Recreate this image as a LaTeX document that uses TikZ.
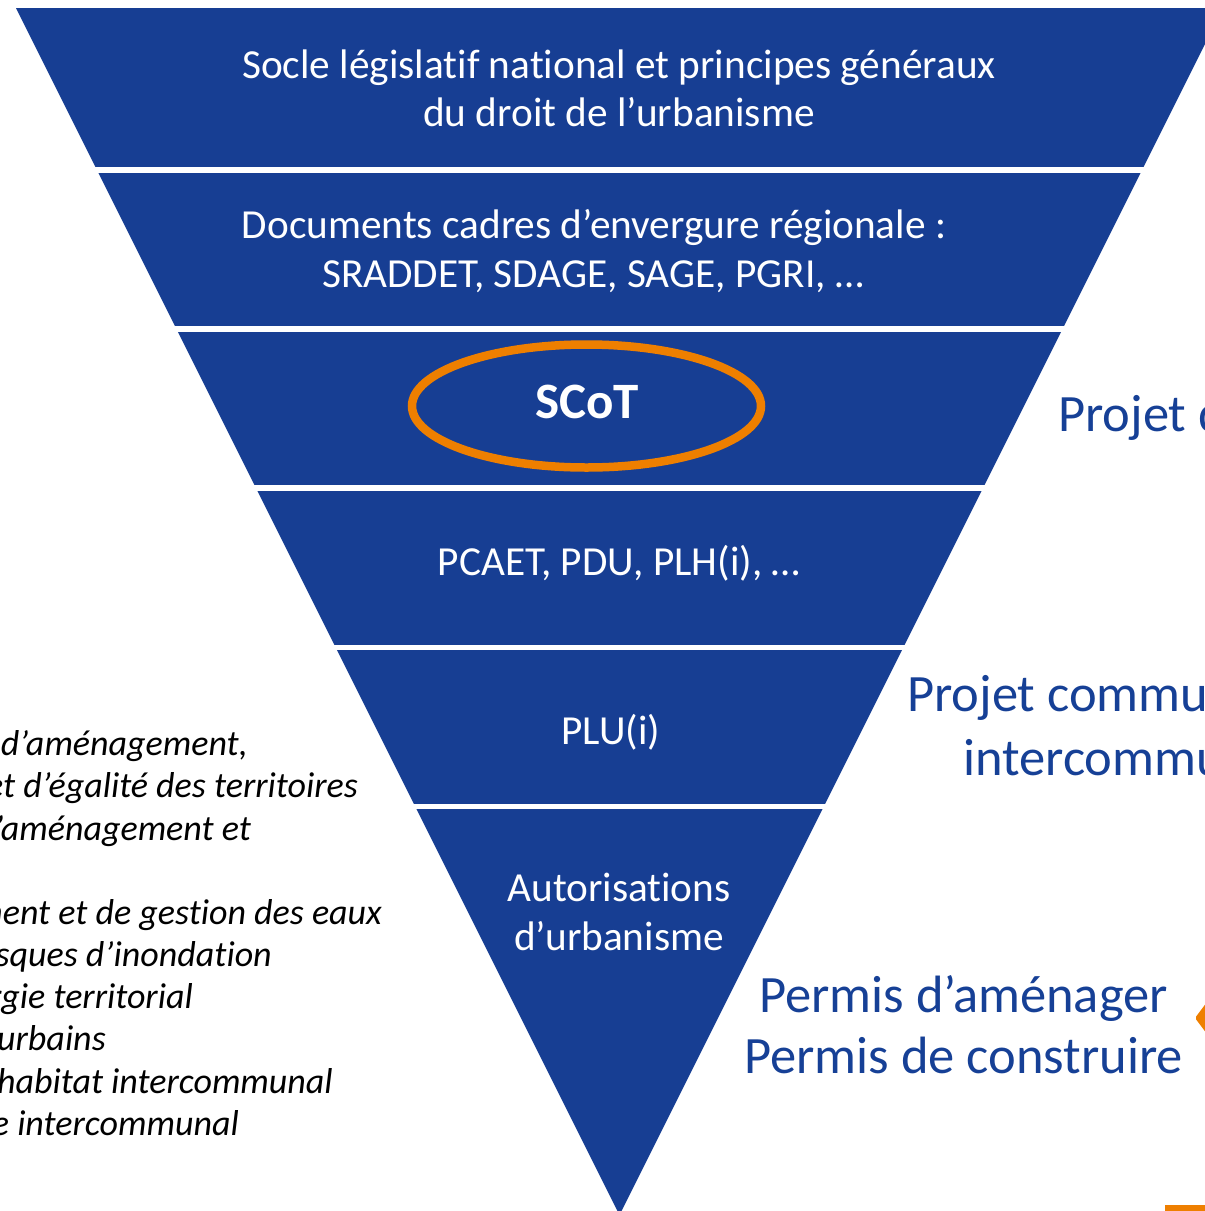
\documentclass[tikz,border=0pt]{standalone}
\usepackage{fontspec}
\setmainfont[Ligatures={TeX,NoCommon}]{Carlito}
\definecolor{pyrblue}{RGB}{23,62,147}
\definecolor{scotorange}{RGB}{238,127,0}
\definecolor{txtblue}{RGB}{22,64,150}
\begin{document}
\begin{tikzpicture}[x=1pt,y=-1pt,
  bandtxt/.style={font=\fontsize{41.3}{48}\selectfont, text=white, anchor=base, inner sep=0pt},
  scottxt/.style={font=\fontsize{51}{60}\selectfont\bfseries, text=white, anchor=base, inner sep=0pt},
  lefttxt/.style={font=\fontsize{36}{42}\selectfont\itshape, text=black, anchor=base east, inner sep=0pt},
  righttxt/.style={font=\fontsize{52.5}{61}\selectfont, text=txtblue, inner sep=0pt}]
\useasboundingbox (0,0) rectangle (1205,1211);
\begin{scope}
\clip (0,0) rectangle (1205,1211);
% pyramid
\fill[pyrblue] (16,8) -- (1223,8) -- (619.5,1215) -- cycle;
\foreach \y in {167,326.2,485.4,644.6,803.8}
  \fill[white] (0,\y) rectangle (1205,\y+5.5);
% band texts
\node[bandtxt] (b1a) at (619,78) {Socle législatif national et principes généraux};
\node[bandtxt] (b1b) at (619,126) {du droit de l’urbanisme};
\node[bandtxt] (b2a) at (594,238) {Documents cadres d’envergure régionale :};
\node[bandtxt] (b2b) at (593,287) {SRADDET, SDAGE, SAGE, PGRI, …};
\node[scottxt] (scot) at (587,418) {SCoT};
\draw[scotorange, line width=8.5pt] (586.5,406) ellipse [x radius=174.5, y radius=61.5];
\node[bandtxt] (b4) at (619,575) {PCAET, PDU, PLH(i), …};
\node[bandtxt] (b5) at (611,744) {PLU(i)};
\node[bandtxt] (b6a) at (619,901) {Autorisations};
\node[bandtxt] (b6b) at (619,950) {d’urbanisme};
% left legend (cut by the frame)
\node[lefttxt] (l1) at (248,755) {gional d’aménagement,};
\node[lefttxt] (l2) at (358,797) {durable et d’égalité des territoires};
\node[lefttxt] (l3) at (251,840) {eur d’aménagement et};
\node[lefttxt] (l5) at (382,924) {nagement et de gestion des eaux};
\node[lefttxt] (l6) at (272,966) {des risques d’inondation};
\node[lefttxt] (l7) at (193,1008) {énergie territorial};
\node[lefttxt] (l8) at (106,1050) {ments urbains};
\node[lefttxt] (l9) at (333,1093) {cal de l’habitat intercommunal};
\node[lefttxt] (l10) at (239,1135) {urbanisme intercommunal};
% right texts (cut by the frame)
\node[righttxt, anchor=base west] (r1) at (1058,431) {Projet de territoire};
\node[righttxt, anchor=base west] (r2a) at (907,711) {Projet communal ou};
\node[righttxt, anchor=base west] (r2b) at (963,775) {intercommunal};
\node[righttxt, anchor=base] (r3a) at (963.5,1012) {Permis d’aménager};
\node[righttxt, anchor=base] (r3b) at (963.5,1073) {Permis de construire};
% orange shapes at the right edge
\fill[scotorange, rounded corners=2pt] (1195,1018) -- (1207,1002) -- (1207,1034) -- cycle;
\fill[scotorange] (1165,1205) rectangle (1207,1213);
\end{scope}
\end{tikzpicture}
\end{document}
